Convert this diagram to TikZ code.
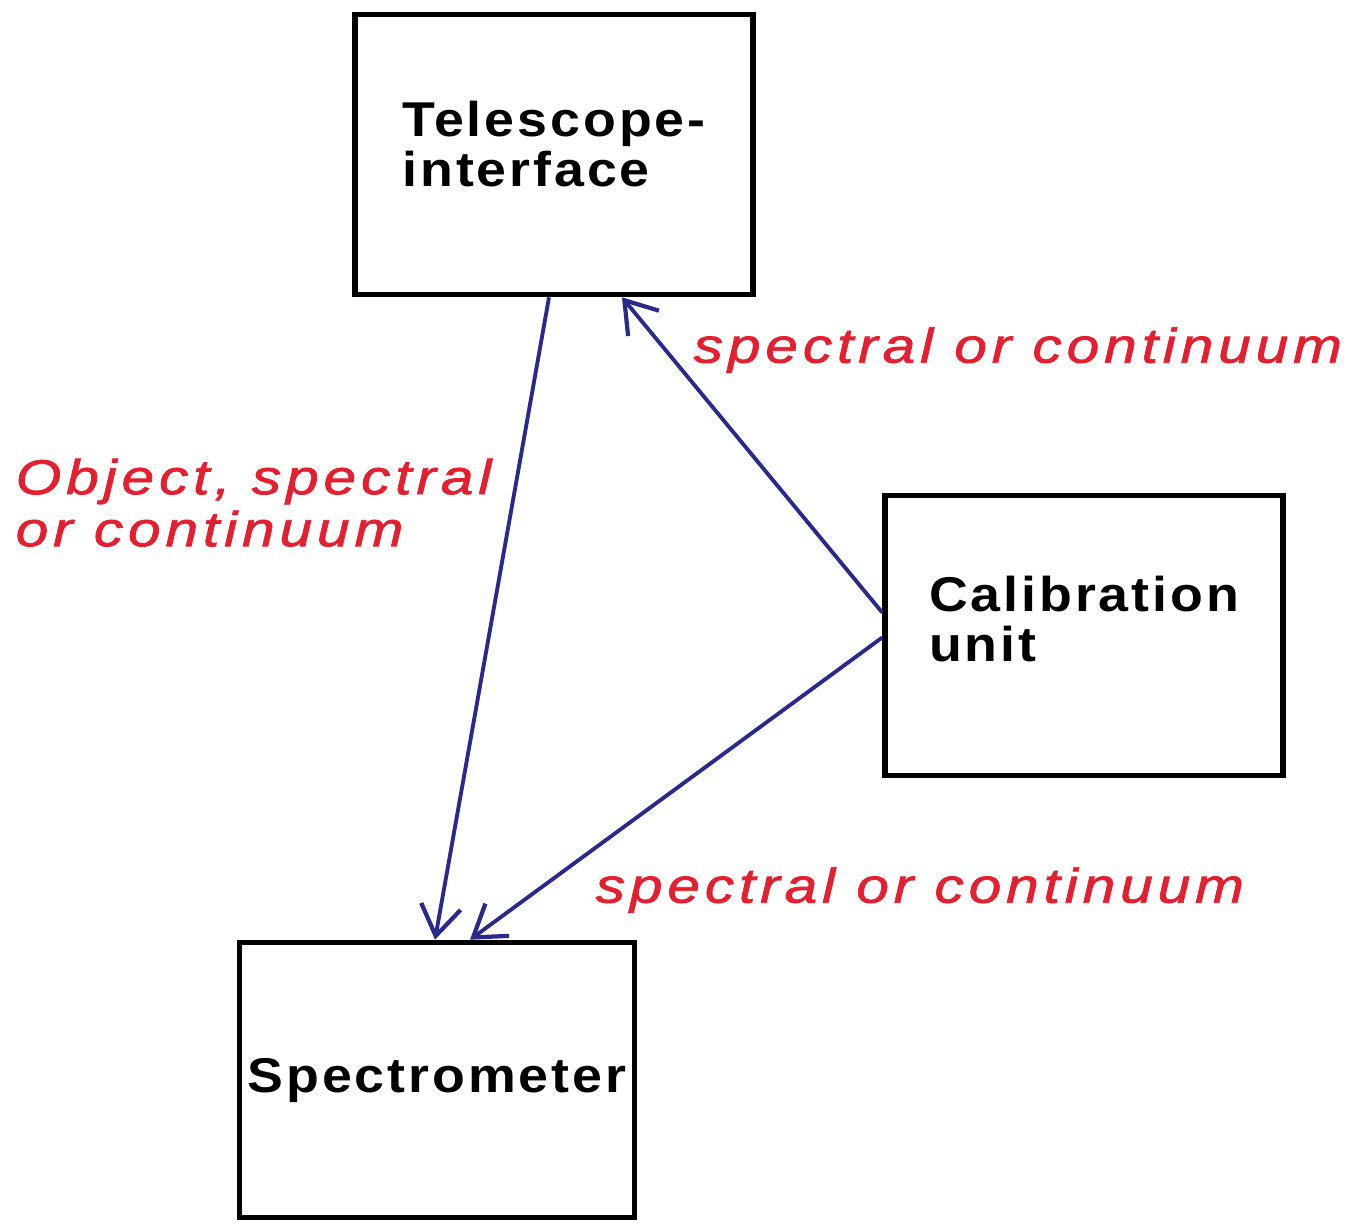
\documentclass[tikz,border=0pt]{standalone}
\usepackage{fontspec}
\usetikzlibrary{arrows.meta}
\newfontfamily\boxfont[FakeStretch=1.1,LetterSpace=6]{Liberation Sans}
\newfontfamily\flowfont[FakeStretch=1.2,LetterSpace=10,FakeBold=1.5]{Liberation Sans}
\definecolor{flowred}{RGB}{228,32,48}
\definecolor{beamblue}{RGB}{42,42,140}
\begin{document}
\begin{tikzpicture}[
    unitbox/.style={draw, line width=1.6pt, inner sep=0pt, minimum width=3.98cm,
                    minimum height=2.8cm, align=left,
                    font=\boxfont\bfseries\fontsize{13.9}{14.2}\selectfont},
    flowlabel/.style={inner sep=0pt, align=left, text=flowred,
                      font=\flowfont\itshape\fontsize{13.9}{14.8}\selectfont},
    beam/.style={line width=1.1pt, beamblue,
                 -{Straight Barb[length=3mm, width=4mm, line width=1.2pt]}}]
\useasboundingbox (0,0) rectangle (13.6,-12.23);
\node[unitbox, text depth=0.22cm, xshift=0.06cm] (tel) at (5.48,-1.545) {Telescope-\\interface};
\node[unitbox, text depth=0.34cm] (cal) at (10.84,-6.355) {Calibration\\unit};
\node[unitbox, minimum height=2.75cm, minimum width=3.95cm] (spec) at (4.37,-10.8)
  {Spectrometer};

\node[flowlabel, anchor=west] (lbltop) at (6.93,-3.5) {spectral or continuum};
\node[flowlabel, anchor=west] (lblbot) at (5.95,-8.9) {spectral or continuum};
\node[flowlabel, anchor=north west] (lblobj) at (0.15,-4.58)
  {Object, spectral\\or continuum};

\draw[beam] ([xshift=-0.05cm]tel.south) -- ([xshift=-0.02cm]spec.north);
\draw[beam] ([yshift=0.23cm]cal.west) -- ([xshift=0.68cm]tel.south);
\draw[beam] ([yshift=-0.02cm]cal.west) -- ([xshift=0.33cm]spec.north);
\end{tikzpicture}
\end{document}
